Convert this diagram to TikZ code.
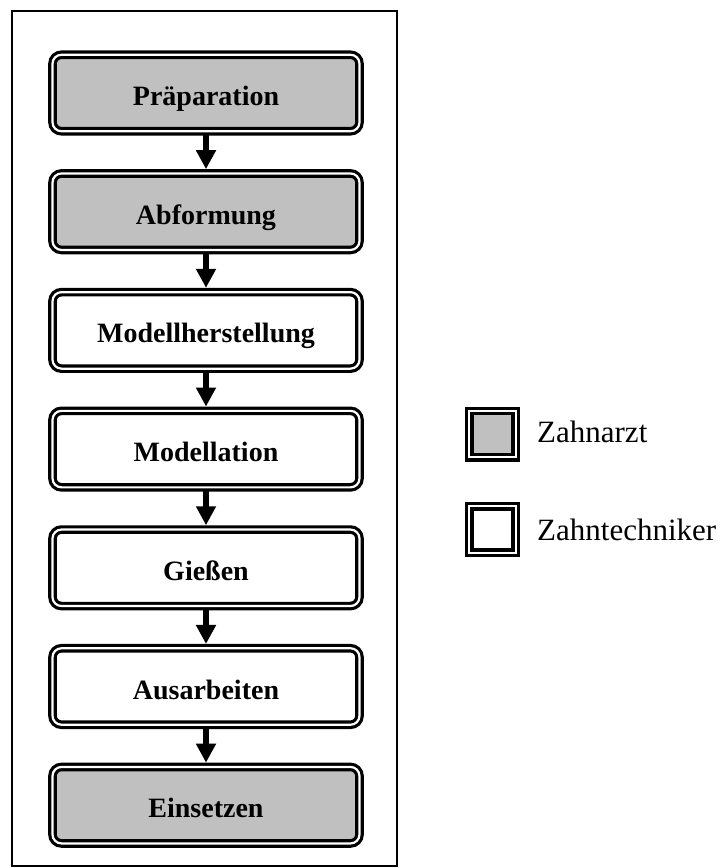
\documentclass[tikz,border=0pt]{standalone}
\usepackage{fontspec}
\setmainfont{Liberation Serif}
\usepackage{xcolor}
\usepackage{tikz}
\usetikzlibrary{arrows.meta, positioning}
\definecolor{boxgray}{RGB}{192,192,192}
\tikzstyle{stage} = [rectangle, rounded corners=9pt, minimum width=307pt, minimum height=76.5pt, outer sep=0pt, text height=25pt, text depth=0pt, text centered, draw=black, line width=3.2pt, double=white, double distance=2.2pt, fill=white, font=\fontsize{28}{32}\selectfont\bfseries]
\tikzstyle{doctor} = [stage, fill=boxgray]
\tikzstyle{legendbox} = [rectangle, minimum size=46.4pt, inner sep=0pt, outer sep=0pt, draw=black, line width=3.2pt, double=white, double distance=2.2pt]
\tikzstyle{legendtext} = [anchor=west, inner sep=0pt, font=\fontsize{31}{36}\selectfont]
\tikzstyle{arrow} = [line width=5.5pt, -{Triangle[width=19pt,length=19pt]}, shorten <=4pt, shorten >=4.3pt]

\begin{document}
\begin{tikzpicture}[x=1pt, y=-1pt, node distance=42.2pt]
        \useasboundingbox (0,0) rectangle (725,868);
        \draw[line width=1.5pt] (12,11) rectangle (397,866);

        \node (prep) [doctor] at (206,93) {Präparation};
        \node (abform) [doctor, below=of prep] {Abformung};
        \node (modell) [stage, below=of abform] {Modellherstellung};
        \node (modellation) [stage, below=of modell] {Modellation};
        \node (giessen) [stage, below=of modellation] {Gießen};
        \node (ausarb) [stage, below=of giessen] {Ausarbeiten};
        \node (einsetzen) [doctor, below=of ausarb] {Einsetzen};

        \draw [arrow] (prep) -- (abform);
        \draw [arrow] (abform) -- (modell);
        \draw [arrow] (modell) -- (modellation);
        \draw [arrow] (modellation) -- (giessen);
        \draw [arrow] (giessen) -- (ausarb);
        \draw [arrow] (ausarb) -- (einsetzen);

        % Legende
        \node (keyarzt) [legendbox, fill=boxgray] at (492.5,434) {};
        \node (keytech) [legendbox, fill=white] at (492.5,529.5) {};
        \node (arzt) [legendtext] at (537,432) {Zahnarzt};
        \node (techniker) [legendtext] at (537,530) {Zahntechniker};
    \end{tikzpicture}
\end{document}
